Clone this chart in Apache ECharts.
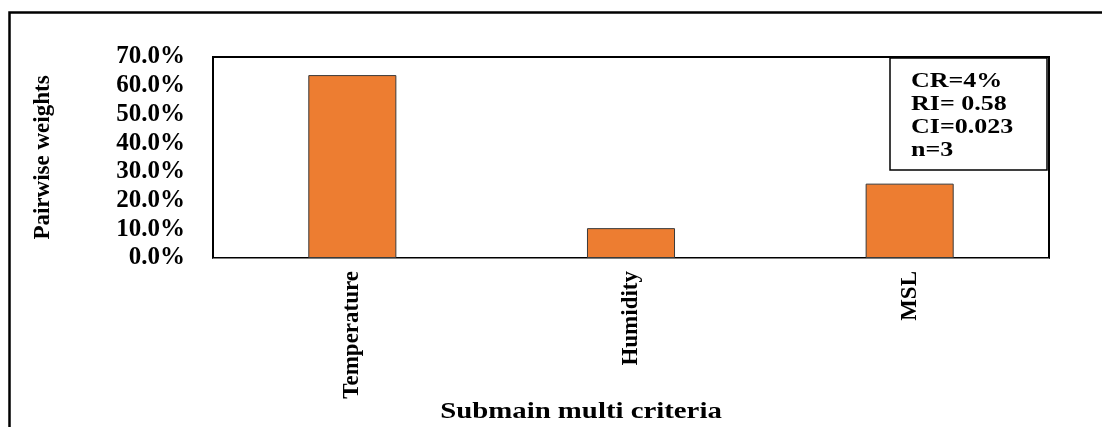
<!DOCTYPE html>
<html>
<head>
<meta charset="utf-8">
<title>Pairwise weights</title>
<style>
  html, body { margin: 0; padding: 0; background: #fff; }
  #chart { width: 1102px; height: 427px; }
</style>
</head>
<body>
<div id="chart"></div>
<script src="https://cdn.jsdelivr.net/npm/echarts@6/dist/echarts.min.js"></script>
<script>
// data
var categories = ['Temperature', 'Humidity', 'MSL'];
var weights = [63.7, 10.4, 25.9];   // percent
var yMin = 0, yMax = 70, yStep = 10;
var boxLines = ['CR=4%', 'RI= 0.58', 'CI=0.023', 'n=3'];

var serif = '"Liberation Serif", "Times New Roman", serif';

var chart = echarts.init(document.getElementById('chart'));

var option = {
  backgroundColor: '#fff',
  animation: false,
  grid: {
    left: 213, top: 57, width: 836, height: 201,
    show: true, borderColor: '#000', borderWidth: 2, backgroundColor: 'transparent'
  },
  xAxis: {
    type: 'category',
    data: categories,
    axisLine: { show: true, lineStyle: { color: '#7f7f7f', width: 1 } },
    axisTick: { show: false },
    axisLabel: {
      rotate: 90, margin: 13, interval: 0,
      fontFamily: serif, fontWeight: 'bold', fontSize: 23, color: '#000'
    }
  },
  yAxis: {
    type: 'value',
    min: yMin, max: yMax, interval: yStep,
    axisLine: { show: false },
    axisTick: { show: false },
    splitLine: { show: false },
    axisLabel: {
      margin: 28,
      fontFamily: serif, fontWeight: 'bold', fontSize: 25, color: '#000',
      formatter: function (v) { return v.toFixed(1) + '%'; }
    },
    name: 'Pairwise weights',
    nameLocation: 'middle',
    nameGap: 158,
    nameTextStyle: { fontFamily: serif, fontWeight: 'bold', fontSize: 23, color: '#000' }
  },
  series: [{
    type: 'bar',
    data: weights,
    barWidth: '31.6%',
    itemStyle: { color: '#ed7d31', borderColor: '#3a3a3a', borderWidth: 1 }
  }],
  graphic: [
    // outer frame (cut off at right and bottom)
    {
      type: 'rect', silent: true,
      shape: { x: 9.5, y: 12.5, width: 1200, height: 600 },
      style: { fill: 'none', stroke: '#000', lineWidth: 2.5 }
    },
    // stats box
    {
      type: 'rect',
      shape: { x: 890, y: 58, width: 157, height: 112 },
      style: { fill: '#fff', stroke: '#000', lineWidth: 1.5 }
    },
    {
      type: 'text', x: 911, y: 70, scaleX: 1.3,
      style: {
        text: boxLines.join('\n'),
        font: 'bold 20px ' + serif,
        lineHeight: 23,
        fill: '#000'
      }
    },
    // x axis title
    {
      type: 'text', x: 581, y: 412, scaleX: 1.2,
      style: {
        text: 'Submain multi criteria',
        font: 'bold 24px ' + serif,
        fill: '#000',
        textAlign: 'center', textVerticalAlign: 'middle'
      }
    }
  ]
};

chart.setOption(option);
window.onresize = function () { chart.resize(); };
</script>
</body>
</html>
